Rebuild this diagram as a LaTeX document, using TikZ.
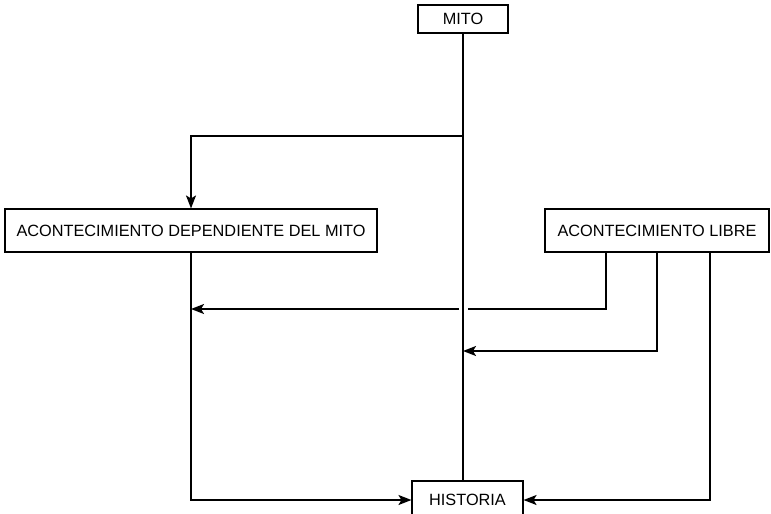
\documentclass[tikz,border=0pt]{standalone}
\usepackage{fontspec}
\setmainfont{Liberation Sans}
\usetikzlibrary{arrows.meta, positioning}
\tikzset{>={Stealth[length=13pt, width=10pt, inset=3pt]}}

\begin{document}
\begin{tikzpicture}[x=1pt, y=-1pt,
    caja/.style={draw, line width=1.1pt, inner sep=0pt, font=\fontsize{16.3}{19}\selectfont},
    flujo/.style={line width=1.8pt}]
    \clip (0,0) rectangle (771,514);
    % cajas
    \node[caja, minimum width=90pt, minimum height=28pt] (mito) at (463,19) {MITO};
    \node[caja, minimum width=372pt, minimum height=43pt] (dep) at (191,230.5) {ACONTECIMIENTO DEPENDIENTE DEL MITO};
    \node[caja, minimum width=224pt, minimum height=43pt] (lib) at (657,230.5) {ACONTECIMIENTO LIBRE};
    \node[caja, minimum width=111pt, minimum height=38pt] (his) at (467.5,500) {HISTORIA};
    % puntos de union
    \coordinate (rama) at (463,136);
    \coordinate (saltoD) at (468,309);
    \coordinate (saltoI) at (459,309);
    \coordinate (cruce) at (463,351);
    % conexiones
    \draw[flujo] (mito.south) -- (mito.south |- his.north);
    \draw[flujo, ->] (rama) -| (dep.north);
    \draw[flujo, ->] (dep.south) |- (his.west);
    \draw[flujo] ([xshift=-51pt]lib.south) |- (saltoD);
    \draw[flujo, ->] (saltoI) -- (saltoI -| dep.south);
    \draw[flujo, ->] (lib.south) |- (cruce);
    \draw[flujo, ->] ([xshift=53pt]lib.south) |- (his.east);
\end{tikzpicture}
\end{document}
